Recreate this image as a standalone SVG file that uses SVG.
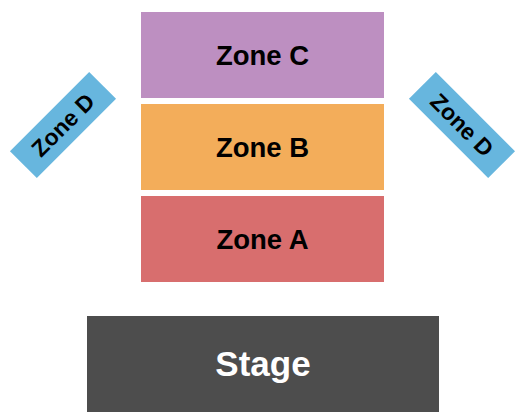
<svg xmlns="http://www.w3.org/2000/svg" width="525" height="420" viewBox="0 0 525 420">
<style>
text{font-family:"Liberation Sans",Arial,sans-serif;font-weight:bold;text-anchor:middle}
.z{font-size:27.5px;fill:#000}
.d{font-size:23px;fill:#000}
.s{font-size:35px;fill:#fff}
</style>
<rect width="525" height="420" fill="#fff"/>
<g id="zone-c"><rect x="141" y="12" width="243" height="86" fill="#BD8FC1"/><text class="z" x="262.5" y="65">Zone C</text></g>
<g id="zone-b"><rect x="141" y="104" width="243" height="86" fill="#F3AD5A"/><text class="z" x="262.5" y="157">Zone B</text></g>
<g id="zone-a"><rect x="141" y="196" width="243" height="86" fill="#D86E6E"/><text class="z" x="262.5" y="249">Zone A</text></g>
<g id="zone-d-left" transform="translate(63,125) rotate(-45)"><rect x="-56" y="-19" width="112" height="38" fill="#67B6DE"/><text class="d" x="0" y="8">Zone D</text></g>
<g id="zone-d-right" transform="translate(462,125) rotate(45)"><rect x="-56" y="-19" width="112" height="38" fill="#67B6DE"/><text class="d" x="0" y="8">Zone D</text></g>
<g id="stage"><rect x="87" y="316" width="352" height="96" fill="#4D4D4D"/><text class="s" x="263" y="376">Stage</text></g>
<g id="connectors"/>
</svg>
